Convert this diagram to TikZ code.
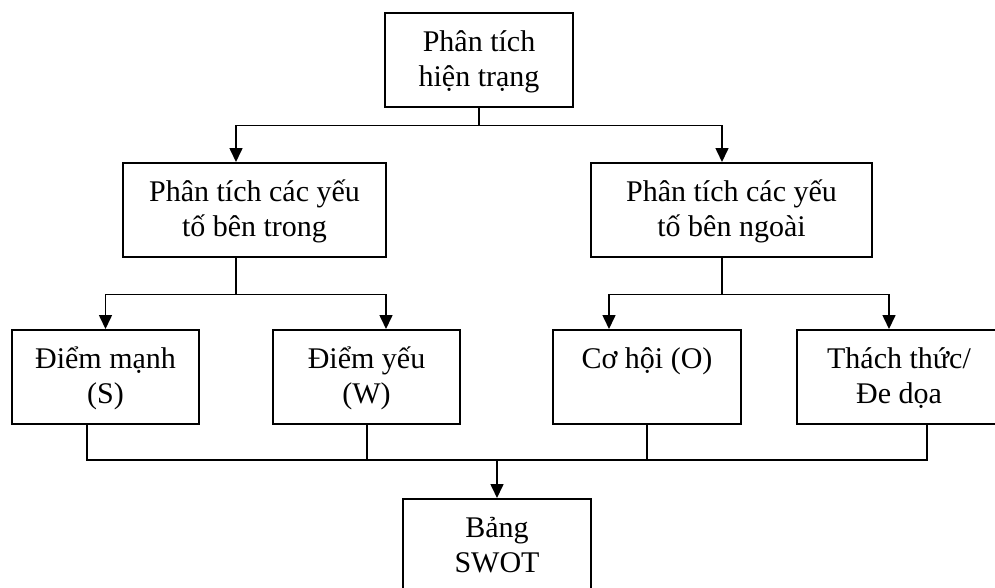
\documentclass[tikz,border=0pt]{standalone}
\usepackage{fontspec}
\setmainfont{Liberation Serif}
\usetikzlibrary{arrows.meta}

\begin{document}
\begin{tikzpicture}[x=1pt, y=-1pt, line width=1.6pt,
    box/.style = {draw, rectangle, align=center, anchor=north,
      font=\fontsize{30}{35}\selectfont, minimum height=94pt,
      inner xsep=4pt, inner ysep=15pt, text height=59pt, text depth=5pt},
    oneline/.style = {text height=24pt, text depth=40pt},
    arr/.style = {-{Triangle[length=14pt,width=13pt]}}]
  \clip (0,0) rectangle (995,587);
  % level 1
  \node[box, minimum width=188pt] (ht) at (479,12) {Phân tích\\hiện trạng};
  % level 2
  \node[box, minimum width=263pt] (trong) at (254.5,162) {Phân tích các yếu\\tố bên trong};
  \node[box, minimum width=281pt] (ngoai) at (731.5,162) {Phân tích các yếu\\tố bên ngoài};
  % level 3
  \node[box, minimum width=187pt] (S) at (105.5,329) {Điểm mạnh\\(S)};
  \node[box, minimum width=187pt] (W) at (366.5,329) {Điểm yếu\\(W)};
  \node[box, oneline, minimum width=188pt] (O) at (647,329) {Cơ hội (O)};
  \node[box, minimum width=204pt] (T) at (899,329) {Thách thức/\\Đe dọa};
  % level 4
  \node[box, minimum width=188pt] (swot) at (497,498) {Bảng\\SWOT};

  % branches
  \draw (ht.south) -- ++(0,18) coordinate (j1);
  \draw[arr] (j1) -| ([xshift=-18.5pt]trong.north);
  \draw[arr] (j1) -| ([xshift=-9.5pt]ngoai.north);

  \draw ([xshift=-18.5pt]trong.south) -- ++(0,37) coordinate (j2);
  \draw[arr] (j2) -| (S.north);
  \draw[arr] (j2) -| ([xshift=19.5pt]W.north);

  \draw ([xshift=-9.5pt]ngoai.south) -- ++(0,37) coordinate (j3);
  \draw[arr] (j3) -| ([xshift=-38pt]O.north);
  \draw[arr] (j3) -| ([xshift=-10pt]T.north);

  % merge into the table
  \path (swot.north) ++(0,-38) coordinate (j4);
  \draw ([xshift=-18.5pt]S.south) |- (j4);
  \draw ([xshift=0.5pt]W.south) |- (j4);
  \draw (O.south) |- (j4);
  \draw ([xshift=28pt]T.south) |- (j4);
  \draw[arr] (j4) -- (swot.north);
\end{tikzpicture}
\end{document}
